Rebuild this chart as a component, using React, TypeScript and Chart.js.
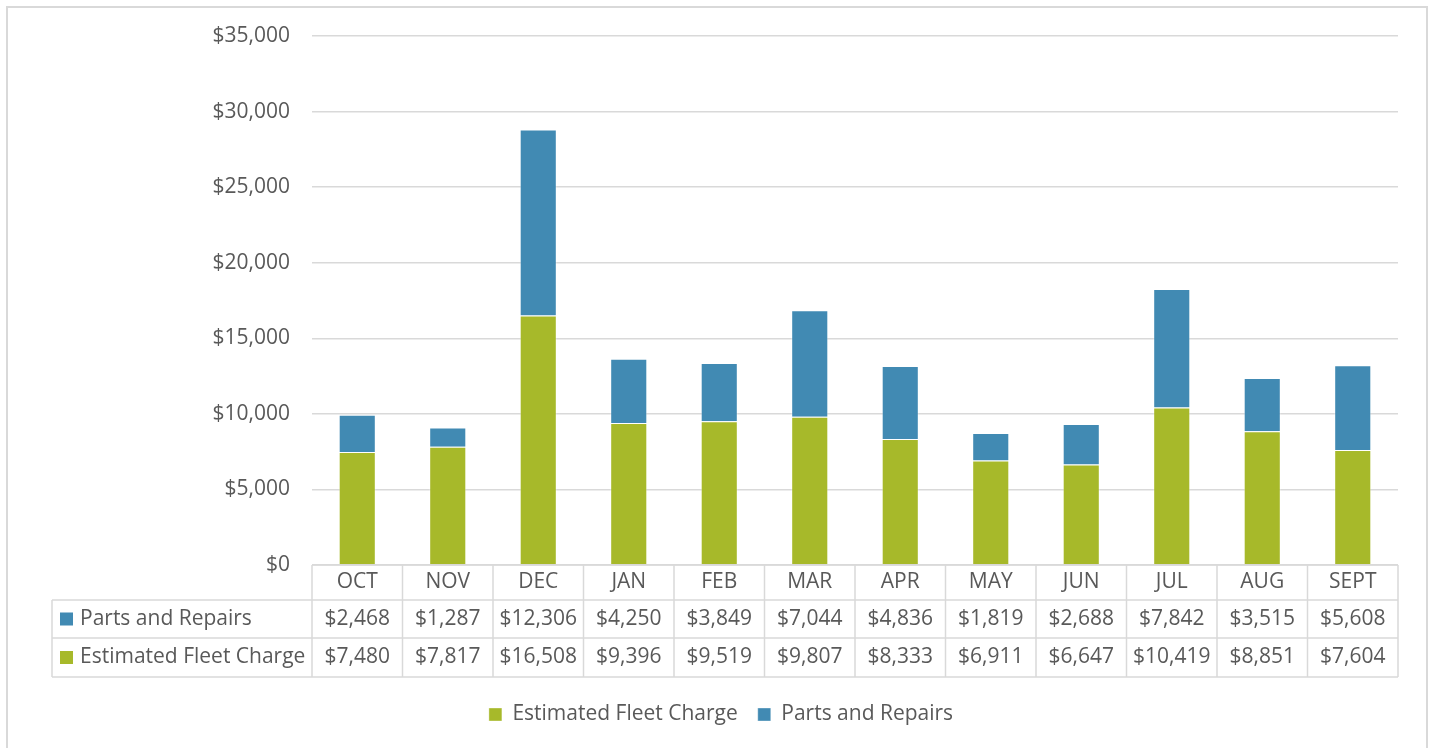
import React, { useEffect, useRef } from "react";
import { Chart, registerables } from "chart.js";

Chart.register(...registerables);

const months = ["OCT", "NOV", "DEC", "JAN", "FEB", "MAR", "APR", "MAY", "JUN", "JUL", "AUG", "SEPT"];
const partsAndRepairs = [2468, 1287, 12306, 4250, 3849, 7044, 4836, 1819, 2688, 7842, 3515, 5608];
const estimatedFleetCharge = [7480, 7817, 16508, 9396, 9519, 9807, 8333, 6911, 6647, 10419, 8851, 7604];
const seriesNames = ["Estimated Fleet Charge", "Parts and Repairs"];

const GREEN = "#A7B92A";
const BLUE = "#418AB3";
const TEXT = "#595959";
const LINE = "#D9D9D9";
const FONT = "'Open Sans', sans-serif";
const FS = 21;
const PAD_LEFT = 44;

const money = (v: number) => "$" + Math.round(v).toLocaleString("en-US");

const frame = {
  id: "frame",
  beforeDraw(chart: any) {
    const { ctx } = chart;
    ctx.save();
    ctx.fillStyle = "#ffffff";
    ctx.fillRect(0, 0, chart.width, chart.height);
    ctx.strokeStyle = "#D9D9D9";
    ctx.lineWidth = 2;
    ctx.strokeRect(7, 7, 1420, 800);
    ctx.restore();
  },
};

const dataTable = {
  id: "dataTable",
  afterDraw(chart: any) {
    const { ctx, chartArea } = chart;
    const x = chart.scales.x;
    const left = chartArea.left;
    const right = chartArea.right;
    const y0 = chartArea.bottom;
    const y1 = y0 + 35;
    const y2 = y1 + 38;
    const y3 = y2 + 39;
    const labelLeft = 52;
    const line = (ax: number, ay: number, bx: number, by: number) => {
      ctx.beginPath();
      ctx.moveTo(ax, ay);
      ctx.lineTo(bx, by);
      ctx.stroke();
    };
    ctx.save();
    ctx.strokeStyle = LINE;
    ctx.lineWidth = 1.5;
    line(left, y0, right, y0);
    line(labelLeft, y1, right, y1);
    line(labelLeft, y2, right, y2);
    line(labelLeft, y3, right, y3);
    line(labelLeft, y1, labelLeft, y3);
    for (let i = 0; i <= months.length; i++) {
      const px = x.getPixelForValue(i - 0.5);
      line(px, y0, px, y3);
    }
    ctx.fillStyle = TEXT;
    ctx.font = `${FS}px ${FONT}`;
    ctx.textAlign = "center";
    ctx.textBaseline = "middle";
    months.forEach((m, i) => {
      const cx = x.getPixelForValue(i);
      ctx.fillText(m, cx, (y0 + y1) / 2);
      ctx.fillText(money(partsAndRepairs[i]), cx, (y1 + y2) / 2);
      ctx.fillText(money(estimatedFleetCharge[i]), cx, (y2 + y3) / 2);
    });
    ctx.textAlign = "left";
    const rows = [
      { name: seriesNames[1], color: BLUE, y: (y1 + y2) / 2 },
      { name: seriesNames[0], color: GREEN, y: (y2 + y3) / 2 },
    ];
    rows.forEach((r) => {
      ctx.fillStyle = r.color;
      ctx.fillRect(60, r.y - 6.5, 13, 13);
      ctx.fillStyle = TEXT;
      ctx.fillText(r.name, 80, r.y);
    });
    ctx.restore();
  },
};

export default function App() {
  const ref = useRef<HTMLCanvasElement | null>(null);
  useEffect(() => {
    if (!ref.current) return;
    const chart = new Chart(ref.current, {
      type: "bar",
      data: {
        labels: months,
        datasets: [
          {
            label: seriesNames[0],
            data: estimatedFleetCharge,
            backgroundColor: GREEN,
            borderColor: "rgba(255,255,255,0.35)",
            borderWidth: 1,
            barPercentage: 0.41,
            categoryPercentage: 1,
          },
          {
            label: seriesNames[1],
            data: partsAndRepairs,
            backgroundColor: BLUE,
            borderColor: "rgba(255,255,255,0.35)",
            borderWidth: 1,
            barPercentage: 0.41,
            categoryPercentage: 1,
          },
        ],
      },
      options: {
        responsive: false,
        animation: false,
        layout: { padding: { left: PAD_LEFT, right: 36, top: 36, bottom: 13 } },
        plugins: {
          legend: {
            position: "bottom",
            labels: {
              boxWidth: 13,
              boxHeight: 13,
              padding: 20,
              color: TEXT,
              font: { family: FONT, size: FS },
            },
          },
          tooltip: { enabled: false },
        },
        scales: {
          x: {
            stacked: true,
            grid: { display: false },
            border: { display: false },
            ticks: { display: false },
            afterFit: (s: any) => {
              s.height = 119;
            },
          },
          y: {
            stacked: true,
            min: 0,
            max: 35000,
            ticks: {
              stepSize: 5000,
              padding: 22,
              color: TEXT,
              font: { family: FONT, size: FS },
              callback: (v: any) => money(Number(v)),
            },
            grid: { color: LINE, lineWidth: 1.5, drawTicks: false },
            border: { display: false },
            afterFit: (s: any) => {
              s.width = 312 - PAD_LEFT;
            },
          },
        },
      },
      plugins: [frame, dataTable],
    });
    return () => chart.destroy();
  }, []);
  return (
    <div style={{ position: "absolute", left: 0, top: 0, width: 1434, height: 748 }}>
      <canvas ref={ref} width={1434} height={748} style={{ display: "block" }} />
    </div>
  );
}
